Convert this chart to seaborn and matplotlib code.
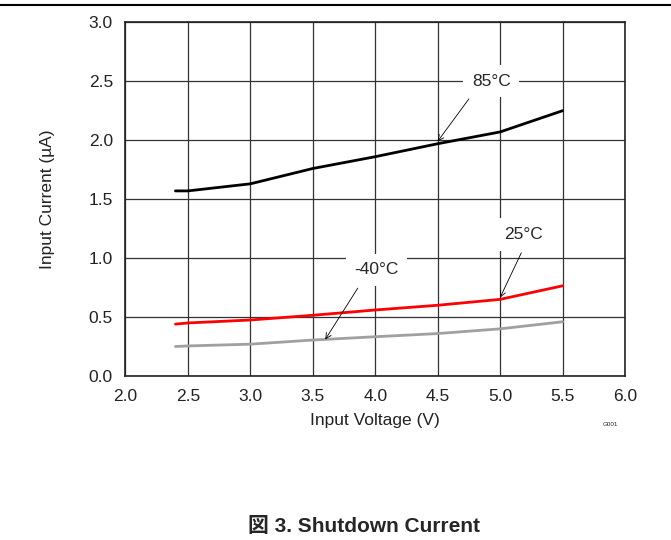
import numpy as np
import pandas as pd
import matplotlib
matplotlib.use('Agg')
import matplotlib.pyplot as plt
import seaborn as sns

# data
voltage = [2.4, 2.5, 3.0, 3.5, 4.0, 4.5, 5.0, 5.5]
cur_85 = [1.57, 1.57, 1.63, 1.76, 1.86, 1.97, 2.07, 2.25]
cur_25 = [0.44, 0.45, 0.475, 0.515, 0.56, 0.60, 0.65, 0.765]
cur_m40 = [0.25, 0.255, 0.27, 0.305, 0.333, 0.36, 0.40, 0.46]
temps = ['85°C', '25°C', '-40°C']
colors = {'85°C': 'black', '25°C': 'red', '-40°C': '#a0a0a0'}

df = pd.concat([
    pd.DataFrame({'v': voltage, 'i': cur_85, 't': '85°C'}),
    pd.DataFrame({'v': voltage, 'i': cur_25, 't': '25°C'}),
    pd.DataFrame({'v': voltage, 'i': cur_m40, 't': '-40°C'}),
])

sns.set_style('white')
plt.rcParams['font.family'] = ['Liberation Sans', 'Noto Sans CJK JP', 'DejaVu Sans']

fig = plt.figure(figsize=(6.71, 5.40), dpi=100)
ax = fig.add_axes([0.187, 0.3037, 0.7444, 0.6550])

sns.lineplot(data=df, x='v', y='i', hue='t', hue_order=temps, palette=colors,
             linewidth=2.0, legend=False, ax=ax, zorder=3)

ax.set_xlim(2.0, 6.0)
ax.set_ylim(0.0, 3.0)
ax.set_xticks(np.arange(2.0, 6.01, 0.5))
ax.set_yticks(np.arange(0.0, 3.01, 0.5))
ax.set_xticklabels(['%.1f' % t for t in np.arange(2.0, 6.01, 0.5)])
ax.set_yticklabels(['%.1f' % t for t in np.arange(0.0, 3.01, 0.5)])
ax.tick_params(length=0, labelsize=12.5, colors='#222222')
ax.tick_params(axis='x', pad=9)
ax.tick_params(axis='y', pad=9)
ax.grid(True, color='#333333', linewidth=0.9)
ax.set_axisbelow(True)
for s in ax.spines.values():
    s.set_color('#222222')
    s.set_linewidth(1.2)

ax.set_xlabel('Input Voltage (V)', fontsize=12.5, labelpad=7, color='#222222')
ax.set_ylabel('Input Current (µA)', fontsize=12.5, labelpad=24, color='#222222')

box = dict(boxstyle='square,pad=0.5', fc='white', ec='none')
arw = dict(arrowstyle='->', color='black', lw=0.6, shrinkA=0, shrinkB=0)
ax.annotate('', xy=(4.50, 1.99), xytext=(4.75, 2.35), arrowprops=arw, zorder=4)
ax.text(4.93, 2.50, '85°C', fontsize=12.5, ha='center', va='center', bbox=box, zorder=5)
ax.annotate('', xy=(5.0, 0.665), xytext=(5.17, 1.045), arrowprops=arw, zorder=4)
ax.text(5.19, 1.20, '25°C', fontsize=12.5, ha='center', va='center', bbox=box, zorder=5)
ax.annotate('', xy=(3.60, 0.31), xytext=(3.86, 0.745), arrowprops=arw, zorder=4)
ax.text(4.01, 0.90, '-40°C', fontsize=12.5, ha='center', va='center', bbox=box, zorder=5)

fig.text(0.909, 1 - 424 / 540, 'G001', fontsize=4.5, ha='center', va='center')
fig.text(364 / 671, 1 - 527 / 540, '図 3. Shutdown Current', fontsize=15,
         fontweight='bold', ha='center', va='center')
fig.add_artist(plt.Line2D([0, 1], [1 - 5 / 540, 1 - 5 / 540], color='black', lw=1.5))

fig.savefig('out.png', dpi=100)
